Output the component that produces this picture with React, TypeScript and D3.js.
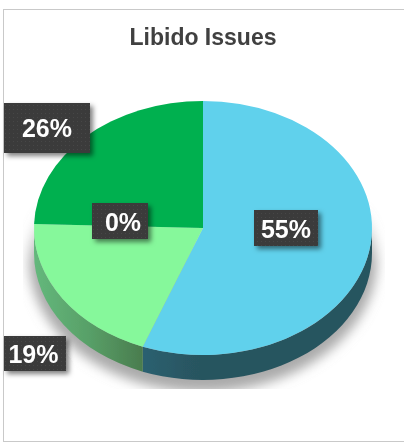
import React from "react";
import * as d3 from "d3";

const title = "Libido Issues";
const categories = ["A", "B", "C", "D"];
const labels = ["55%", "19%", "26%", "0%"];
// slice sizes as drawn in the picture, they differ a bit from the printed labels
const values = [55.8, 19.7, 24.5, 0];

const topColors = ["#60d1ec", "#86f89b", "#00b050", "#92d050"];

// label boxes sit where the original chart dragged them
const labelBoxes = [
  { x: 254, y: 210, w: 64, h: 36, tx: 286, ty: 238 },
  { x: 4, y: 336, w: 62, h: 35, tx: 33.5, ty: 363 },
  { x: 4, y: 103, w: 86, h: 50, tx: 47, ty: 137 },
  { x: 92, y: 203, w: 56, h: 36, tx: 123, ty: 231 },
];

const width = 404;
const height = 447;
const cx = 203;
const cy = 228;
const rx = 169;
const ry = 127;
const depth = 25;
const squash = ry / rx;

const pie = d3
  .pie<number>()
  .sort(null)
  .value((d) => d);

const arc = d3
  .arc<d3.PieArcDatum<number>>()
  .innerRadius(0)
  .outerRadius(rx);

// wall of a slice, only the part facing the viewer (bottom half)
function sidePath(a0: number, a1: number) {
  const start = Math.max(a0, Math.PI / 2);
  const end = Math.min(a1, (3 * Math.PI) / 2);
  if (end <= start) return null;
  const p = d3.path();
  const h = depth / squash;
  p.arc(0, 0, rx, start - Math.PI / 2, end - Math.PI / 2);
  p.arc(0, h, rx, end - Math.PI / 2, start - Math.PI / 2, true);
  p.closePath();
  return p.toString();
}

const App = () => {
  const slices = pie(values);

  return (
    <svg
      width={width}
      height={height}
      style={{ position: "fixed", left: 0, top: 0, display: "block", background: "#fff" }}
    >
      <defs>
        <filter id="soft" x="-5%" y="-5%" width="110%" height="110%">
          <feGaussianBlur stdDeviation="0.45" />
        </filter>
        <filter id="shadowBlur" x="-20%" y="-20%" width="140%" height="140%">
          <feGaussianBlur stdDeviation="6" />
        </filter>
        <filter id="boxShadow" x="-30%" y="-30%" width="170%" height="170%">
          <feDropShadow dx="3" dy="3" stdDeviation="2.5" floodColor="#000" floodOpacity="0.5" />
        </filter>
        <pattern id="dots" width="4" height="4" patternUnits="userSpaceOnUse">
          <rect width="4" height="4" fill="#3a3a3a" />
          <rect x="1" y="1" width="1" height="1" fill="#474747" />
        </pattern>
        <linearGradient id="shadowFade" gradientUnits="userSpaceOnUse" x1="0" y1="205" x2="0" y2="265">
          <stop offset="0" stopColor="#aaaaaa" stopOpacity="0" />
          <stop offset="1" stopColor="#aaaaaa" stopOpacity="1" />
        </linearGradient>
        <clipPath id="shadowClip">
          <rect x={23} y={190} width={362} height={199} />
        </clipPath>
        <linearGradient id="side0" gradientUnits="userSpaceOnUse" x1={-60} y1="0" x2={rx} y2="0">
          <stop offset="0" stopColor="#2b6070" />
          <stop offset="0.25" stopColor="#28545f" />
          <stop offset="1" stopColor="#28545f" />
        </linearGradient>
        <linearGradient id="side1" gradientUnits="userSpaceOnUse" x1={-rx} y1="0" x2={-60} y2="0">
          <stop offset="0" stopColor="#64b87c" />
          <stop offset="0.5" stopColor="#58a068" />
          <stop offset="1" stopColor="#4a7c4e" />
        </linearGradient>
        <linearGradient id="side2" gradientUnits="userSpaceOnUse" x1={-rx} y1="0" x2={-rx + 10} y2="0">
          <stop offset="0" stopColor="#00803a" />
          <stop offset="1" stopColor="#00803a" />
        </linearGradient>
      </defs>

      <rect x={3.5} y={9.5} width={width + 10} height={432} fill="#fff" stroke="#c9c9c9" strokeWidth={1} />

      <g filter="url(#soft)">
        <g clipPath="url(#shadowClip)">
          <ellipse
            cx={cx}
            cy={cy + depth + 7}
            rx={rx + 5}
            ry={ry + 5}
            fill="url(#shadowFade)"
            filter="url(#shadowBlur)"
          />
        </g>

        <g transform={`translate(${cx},${cy}) scale(1,${squash})`}>
          {slices.map((s, i) => {
            const d = sidePath(s.startAngle, s.endAngle);
            return d ? <path key={categories[i]} d={d} fill={`url(#side${i})`} /> : null;
          })}
          {slices.map((s, i) => (
            <path key={categories[i]} d={arc(s) ?? ""} fill={topColors[i]} />
          ))}
        </g>

        <text
          x={203}
          y={44.5}
          textAnchor="middle"
          fontFamily="Liberation Sans, Arial, sans-serif"
          fontWeight="bold"
          fontSize={23}
          fill="#404040"
        >
          {title}
        </text>

        {labelBoxes.map((b, i) => (
          <g key={categories[i]}>
            <rect x={b.x} y={b.y} width={b.w} height={b.h} fill="url(#dots)" filter="url(#boxShadow)" />
            <text
              x={b.tx}
              y={b.ty}
              textAnchor="middle"
              fontFamily="Liberation Sans, Arial, sans-serif"
              fontWeight="bold"
              fontSize={25}
              fill="#fff"
            >
              {labels[i]}
            </text>
          </g>
        ))}
      </g>
    </svg>
  );
};

export default App;
